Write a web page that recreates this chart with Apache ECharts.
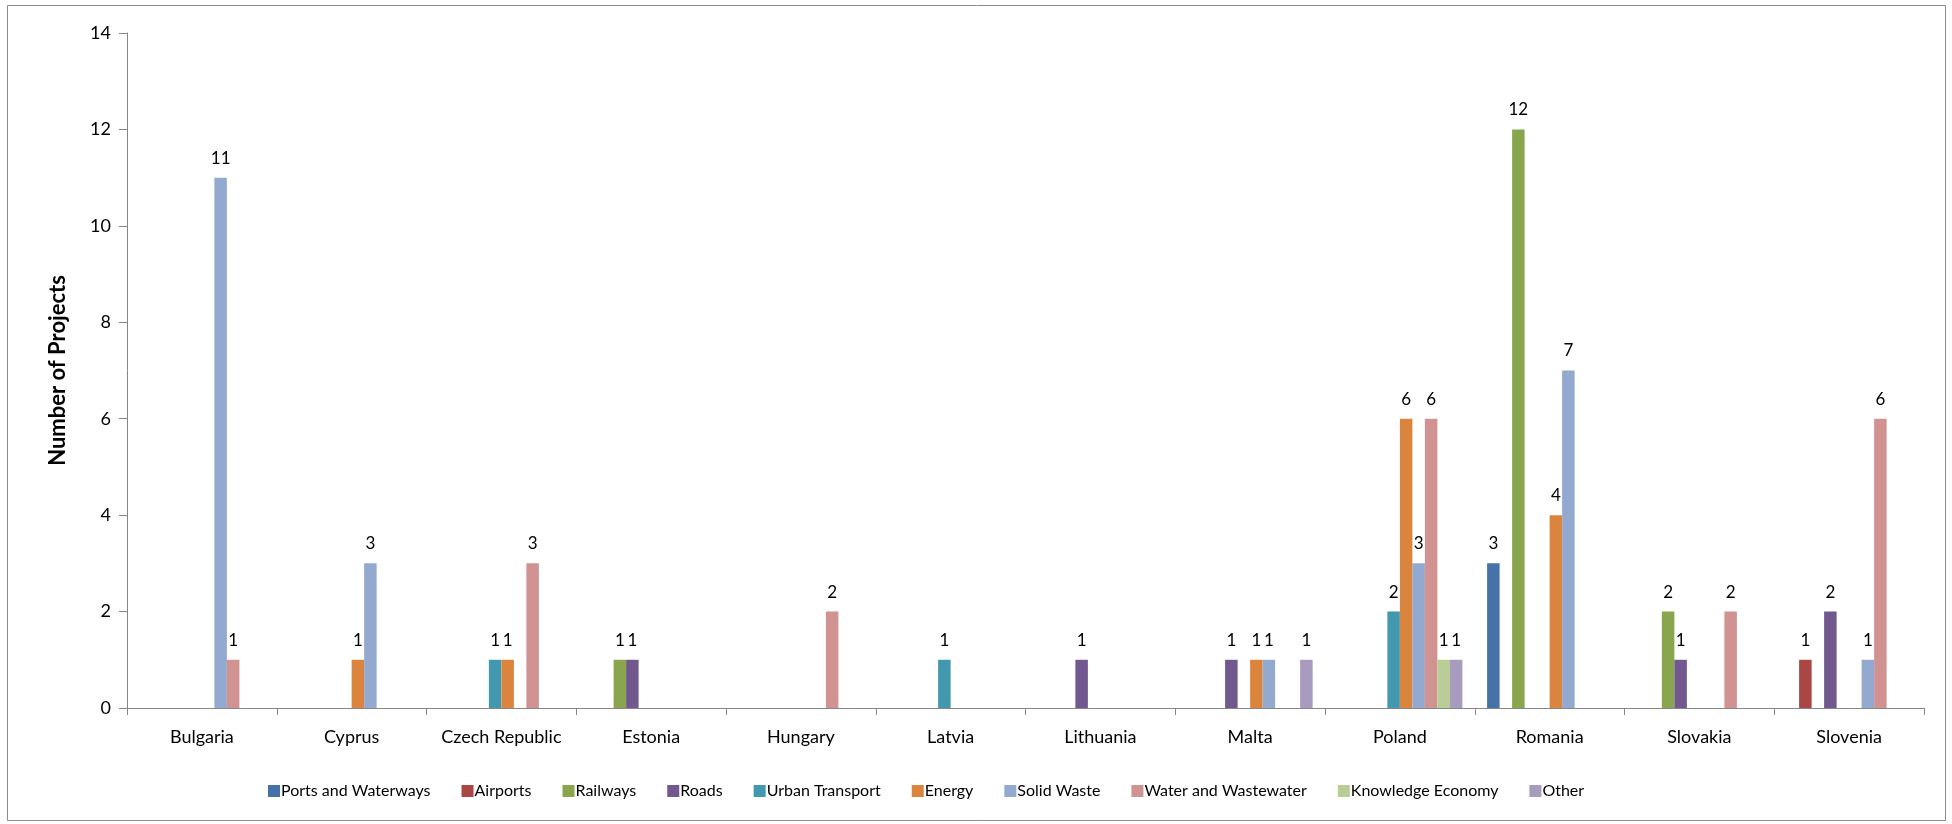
<!DOCTYPE html>
<html>
<head>
<meta charset="utf-8">
<script src="https://cdn.jsdelivr.net/npm/echarts@6/dist/echarts.min.js"></script>
<style>
    html, body {margin: 0; padding: 0; background: #fff;}
    #chart {width: 1952px; height: 824px;}
</style>
</head>
<body>
<div id="chart"></div>
<script>
// categories
const countries = ['Bulgaria', 'Cyprus', 'Czech Republic', 'Estonia', 'Hungary', 'Latvia',
    'Lithuania', 'Malta', 'Poland', 'Romania', 'Slovakia', 'Slovenia'];

const sectorNames = ['Ports and Waterways', 'Airports', 'Railways', 'Roads', 'Urban Transport',
    'Energy', 'Solid Waste', 'Water and Wastewater', 'Knowledge Economy', 'Other'];

// number of projects per sector, one value per country (null = none)
const portsAndWaterways = [null, null, null, null, null, null, null, null, null, 3, null, null];
const airports = [null, null, null, null, null, null, null, null, null, null, null, 1];
const railways = [null, null, null, 1, null, null, null, null, null, 12, 2, null];
const roads = [null, null, null, 1, null, null, 1, 1, null, null, 1, 2];
const urbanTransport = [null, null, 1, null, null, 1, null, null, 2, null, null, null];
const energy = [null, 1, 1, null, null, null, null, 1, 6, 4, null, null];
const solidWaste = [11, 3, null, null, null, null, null, 1, 3, 7, null, 1];
const waterAndWastewater = [1, null, 3, null, 2, null, null, null, 6, null, 2, 6];
const knowledgeEconomy = [null, null, null, null, null, null, null, null, 1, null, null, null];
const other = [null, null, null, null, null, null, null, 1, 1, null, null, null];

const yTicks = [0, 2, 4, 6, 8, 10, 12, 14];

const sectorValues = [portsAndWaterways, airports, railways, roads, urbanTransport,
    energy, solidWaste, waterAndWastewater, knowledgeEconomy, other];

// Excel 2007 default palette
const colors = ['#4572A7', '#AA4643', '#89A54E', '#71588F', '#4198AF',
    '#DB843D', '#93A9CF', '#D19392', '#B9CD96', '#A99BBD'];

const fontFamily = 'Lato, "Open Sans", sans-serif';
const axisGray = '#868686';

let myChart = echarts.init(document.getElementById('chart'));

let series = sectorNames.map((name, i) => ({
    name: name,
    type: 'bar',
    data: sectorValues[i],
    barGap: 0,
    barCategoryGap: '16.5%',
    itemStyle: {color: colors[i]},
    label: {
        show: true,
        position: 'top',
        distance: 11,
        color: '#000',
        fontSize: 17,
        fontFamily: fontFamily,
    },
}));

let option = {
    backgroundColor: '#fff',
    animation: false,
    textStyle: {fontFamily: fontFamily},
    graphic: [
        {
            type: 'rect',
            shape: {x: 7.5, y: 5.5, width: 1938, height: 815},
            style: {fill: 'none', stroke: '#8c8c8c', lineWidth: 1},
            silent: true,
        }
    ],
    grid: {left: 127, right: 28, top: 33, bottom: 116},
    legend: {
        data: sectorNames,
        left: 263,
        top: 778,
        icon: 'rect',
        itemWidth: 12,
        itemHeight: 12,
        itemGap: 31,
        textStyle: {fontSize: 16, color: '#000', fontFamily: fontFamily, padding: [0, 0, 0, -4]},
    },
    xAxis: {
        type: 'category',
        data: countries,
        axisLine: {lineStyle: {color: axisGray}},
        axisTick: {show: true, interval: 0, length: 7, lineStyle: {color: axisGray}},
        axisLabel: {
            color: '#000', fontSize: 18, margin: 20, fontFamily: fontFamily,
            interval: 0, hideOverlap: false,
        },
    },
    yAxis: {
        type: 'value',
        min: yTicks[0],
        max: yTicks[yTicks.length - 1],
        interval: 2,
        name: 'Number of Projects',
        nameLocation: 'middle',
        nameRotate: 90,
        nameGap: 58,
        nameTextStyle: {fontSize: 22, fontWeight: 'bold', color: '#000', fontFamily: fontFamily},
        splitLine: {show: false},
        axisLine: {show: true, lineStyle: {color: axisGray}},
        axisTick: {show: true, length: 8, lineStyle: {color: axisGray}},
        axisLabel: {color: '#000', fontSize: 18, margin: 16, fontFamily: fontFamily},
    },
    series: series,
};

myChart.setOption(option);
</script>
</body>
</html>
